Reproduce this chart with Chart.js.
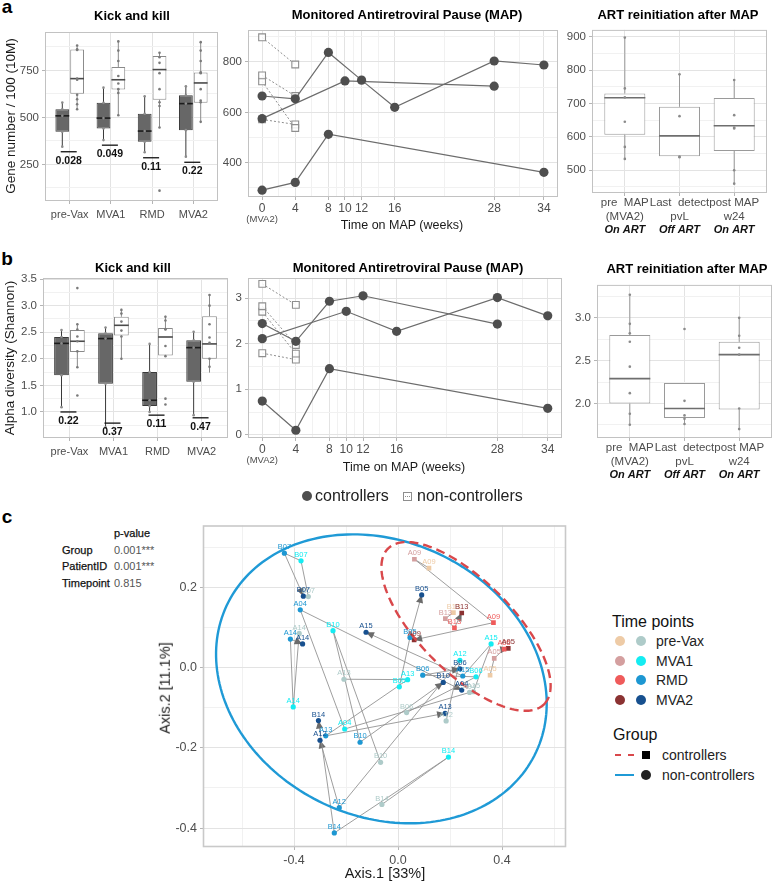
<!DOCTYPE html>
<html>
<head>
<meta charset="utf-8">
<script src="https://cdn.jsdelivr.net/npm/chart.js@4.4.1/dist/chart.umd.min.js"></script>
<style>
  body { margin: 0; background: #fff; }
  #fig { position: relative; width: 777px; height: 883px; overflow: hidden; background: #fff;
         font-family: 'Liberation Sans', Arial, sans-serif; }
  .t { position: absolute; white-space: pre; line-height: 1; color: #1a1a1a; }
  .sw { position: absolute; }
</style>
</head>
<body>
<div id="fig"></div>
<script>
// ---------------- data ----------------
const kkCats = ['pre-Vax', 'MVA1', 'RMD', 'MVA2'];
const artCats = [['pre  MAP', '(MVA2)'], ['Last  detect', 'pvL'], ['post MAP', 'w24']];
const artState = ['On ART', 'Off ART', 'On ART'];
const mapWeeks = [0, 4, 8, 10, 12, 16, 28, 34];
const mapMinor = [2, 6, 9, 11, 14, 22, 31];

// gene number / 100 (10M) -- boxes are [low whisker, q1, median, q3, high whisker]
const geneKkCtrl = [[344, 423, 508, 543, 579], [379, 441, 496, 577, 658], [314, 370, 427, 519, 612], [291, 432, 573, 617, 665]];
const geneKkNon = [[543, 626, 706, 861, 882], [511, 648, 700, 768, 904], [446, 594, 754, 826, 844], [476, 577, 683, 738, 900]];
const geneKkCtrlPts = [[579, 543, 508, 423, 344], [658, 577, 496, 441, 379], [612, 519, 427, 370, 314], [665, 617, 573, 432, 291]];
const geneKkNonPts = [[882, 862, 858, 706, 700, 620, 596, 570, 543], [904, 855, 800, 720, 680, 650, 630, 511],
                      [844, 820, 790, 735, 650, 580, 560, 446, 110], [900, 855, 800, 740, 735, 650, 590, 580, 476]];
const geneKkP = ['0.028', '0.049', '0.11', '0.22'];
const geneKkPy = [317, 352, 285, 261];

const geneMapCtrlX = [[0, 4, 8, 34], [0, 4, 8, 12, 16, 28, 34], [0, 10, 28]];
const geneMapCtrlY = [[291, 322, 513, 362], [665, 654, 838, 728, 620, 804, 788], [575, 725, 704]];
const geneMapNonX = [[0, 4], [0, 4], [0, 4], [0, 4]];
const geneMapNonY = [[898, 790], [747, 665], [723, 538], [572, 552]];

const geneArt = [[534, 606, 717, 730, 897], [541, 542, 603, 690, 787], [460, 558, 633, 716, 770]];
const geneArtPts = [[897, 745, 718, 645, 570, 534], [787, 662, 541, 539], [770, 665, 628, 625, 500, 460]];

// alpha diversity (Shannon)
const shanKkCtrl = [[1.09, 1.69, 2.29, 2.41, 2.54], [0.71, 1.53, 2.38, 2.48, 2.59], [1.00, 1.11, 1.22, 1.75, 2.28], [0.94, 1.57, 2.21, 2.35, 2.51]];
const shanKkNon = [[1.84, 2.13, 2.33, 2.54, 2.65], [2.00, 2.44, 2.63, 2.79, 2.94], [2.04, 2.06, 2.41, 2.58, 2.81], [1.74, 2.00, 2.28, 2.80, 3.20]];
const shanKkCtrlPts = [[2.54, 2.41, 2.29, 1.69, 1.09], [2.59, 2.48, 2.38, 1.53, 0.71], [2.28, 1.75, 1.22, 1.11, 1.00], [2.51, 2.35, 2.21, 1.57, 0.94]];
const shanKkNonPts = [[3.33, 2.65, 2.55, 2.42, 2.33, 2.14, 1.84, 1.31], [2.92, 2.85, 2.70, 2.53, 2.42, 2.00],
                      [2.79, 2.72, 2.56, 2.55, 2.24, 2.05, 1.25, 1.14], [3.20, 3.00, 2.65, 2.40, 2.30, 2.00, 1.85]];
const shanKkP = ['0.22', '0.37', '0.11', '0.47'];
const shanKkPy = [1.00, 0.79, 0.94, 0.89];

const shanMapCtrlX = [[0, 4, 8, 34], [0, 4, 8, 12, 28], [0, 10, 16, 28, 34]];
const shanMapCtrlY = [[0.74, 0.10, 1.45, 0.58], [2.44, 2.05, 2.93, 3.05, 2.43], [2.11, 2.71, 2.27, 3.01, 2.61]];
const shanMapNonX = [[0, 4], [0, 4], [0, 4], [0, 4]];
const shanMapNonY = [[3.31, 2.85], [2.82, 1.97], [2.70, 1.78], [1.79, 1.65]];

const shanArt = [[1.75, 2.00, 2.29, 2.80, 3.28], [1.76, 1.83, 1.94, 2.24, 2.24], [1.70, 1.93, 2.57, 2.72, 3.00]];
const shanArtPts = [[3.27, 2.93, 2.82, 2.72, 2.43, 2.12, 1.88, 1.75], [2.87, 2.03, 1.86, 1.82, 1.76], [3.00, 2.79, 2.65, 2.57, 1.94, 1.70]];

// PCoA (Axis.1, Axis.2) per patient, time points: pre-Vax, MVA1, RMD, MVA2
const pcoaTimes = ['pre-Vax', 'MVA1', 'RMD', 'MVA2'];
const pcoaPatients = ['A04', 'A12', 'A13', 'A14', 'A15', 'B05', 'B06', 'B07', 'B10', 'B14', 'A05', 'A09', 'B13'];
const pcoaControl = [false, false, false, false, false, false, false, false, false, false, true, true, true];
const pcoaX = [[0.275, -0.205, -0.376, 0.245], [0.185, 0.238, -0.226, -0.300], [-0.208, 0.037, -0.278, 0.181],
               [-0.380, -0.403, -0.414, -0.367], [0.290, 0.358, 0.249, -0.123], [null, 0.005, 0.046, 0.091],
               [0.033, 0.300, 0.095, 0.238], [-0.345, -0.373, -0.437, -0.364], [-0.067, -0.250, -0.146, 0.174],
               [-0.062, 0.194, -0.245, -0.306], [0.354, 0.370, 0.408, 0.424], [0.119, 0.063, 0.367, 0.062],
               [0.213, 0.182, 0.217, 0.245]];
const pcoaY = [[-0.062, -0.153, 0.144, -0.056], [-0.133, 0.018, -0.349, -0.181], [-0.029, -0.030, -0.170, -0.114],
               [0.085, -0.098, 0.071, 0.059], [-0.060, 0.059, -0.021, 0.088], [null, -0.048, 0.075, 0.181],
               [-0.112, -0.023, -0.019, -0.003], [0.177, 0.266, 0.285, 0.178], [-0.236, 0.092, -0.186, -0.037],
               [-0.341, -0.223, -0.412, -0.132], [-0.019, 0.023, 0.046, 0.048], [0.248, 0.270, 0.112, 0.069],
               [0.137, 0.122, 0.099, 0.136]];
// confidence ellipses: centre x, centre y, axis vector u (x, y), axis vector v (x, y)
const ellipseNon = [-0.064, -0.028, 0.634, -0.088, 0.048, 0.349];
const ellipseCtrl = [0.2615, 0.1025, 0.300, -0.194, 0.126, 0.081];
const permTerms = ['Group', 'PatientID', 'Timepoint'];
const permP = ['0.001***', '0.001***', '0.815'];

const nonCols = ['#aecbc9', '#14ecf2', '#1d97d2', '#17508f'];
const ctrlCols = ['#eecba6', '#d49f9f', '#ef5b5b', '#8b3232'];

// ---------------- helpers ----------------
Chart.defaults.font.family = "'Liberation Sans', Arial, sans-serif";
Chart.defaults.color = '#4d4d4d';
const fig = document.getElementById('fig');

function txt(s, x, y, css, align, rot) {
  const d = document.createElement('div');
  d.className = 't';
  d.textContent = s;
  const tx = align === 'l' ? '0' : align === 'r' ? '-100%' : '-50%';
  d.style.cssText = `left:${x}px;top:${y}px;transform:translate(${tx},-50%)${rot ? ' rotate(' + rot + 'deg)' : ''};${css}`;
  fig.appendChild(d);
}

function linAxis(min, max, major, minor, fmt, pad, size) {
  const isMaj = v => major.some(m => Math.abs(m - v) < 1e-9);
  return {
    type: 'linear', min: min, max: max, offset: false,
    afterBuildTicks: s => { s.ticks = major.concat(minor).sort((a, b) => a - b).map(v => ({ value: v })); },
    ticks: { autoSkip: false, maxRotation: 0, minRotation: 0, padding: pad, color: '#4d4d4d',
             font: { size: size || 11 }, callback: v => isMaj(v) ? fmt(v) : '' },
    grid: { offset: false, lineWidth: 1, tickLength: 3,
            color: c => (c.tick && isMaj(c.tick.value)) ? '#e3e3e3' : '#f1f1f1',
            tickColor: c => (c.tick && isMaj(c.tick.value)) ? '#b5b5b5' : 'rgba(0,0,0,0)' },
    border: { display: false }
  };
}

const framePlugin = {
  id: 'frame',
  beforeDatasetsDraw(chart) {
    const a = chart.chartArea, ctx = chart.ctx;
    ctx.save();
    ctx.strokeStyle = chart.options.frameColor || '#c2c2c2';
    ctx.lineWidth = chart.options.frameWidth || 1;
    ctx.strokeRect(a.left + 0.5, a.top + 0.5, a.right - a.left - 1, a.bottom - a.top - 1);
    ctx.restore();
  }
};

function mount(box, plot, cfg) {
  const [bx, by, bw, bh] = box, [pl, pt, pr, pb] = plot;
  const cv = document.createElement('canvas');
  cv.width = bw; cv.height = bh;
  cv.style.cssText = `position:absolute;left:${bx}px;top:${by}px;width:${bw}px;height:${bh}px;`;
  fig.appendChild(cv);
  const o = cfg.options;
  o.responsive = false; o.animation = false; o.devicePixelRatio = 1;
  o.layout = { padding: { left: 0, top: pt - by, right: bx + bw - pr, bottom: 0 } };
  o.scales.x.afterFit = s => { s.height = by + bh - pb; };
  o.scales.y.afterFit = s => { s.width = pl - bx; };
  o.plugins = Object.assign({ legend: { display: false }, tooltip: { enabled: false } }, o.plugins || {});
  cfg.plugins = [framePlugin].concat(cfg.plugins || []);
  return new Chart(cv, cfg);
}

// whiskers, medians and jittered points on top of floating bars
const boxPlugin = {
  id: 'boxes',
  beforeDatasetsDraw(chart) {
    const ctx = chart.ctx, y = chart.scales.y;
    chart.data.datasets.forEach((ds, i) => {
      chart.getDatasetMeta(i).data.forEach((bar, j) => {
        const f = ds.five[j];
        ctx.save();
        ctx.strokeStyle = ds.whisker; ctx.lineWidth = 1;
        ctx.beginPath();
        ctx.moveTo(bar.x, y.getPixelForValue(f[0])); ctx.lineTo(bar.x, y.getPixelForValue(f[1]));
        ctx.moveTo(bar.x, y.getPixelForValue(f[3])); ctx.lineTo(bar.x, y.getPixelForValue(f[4]));
        ctx.stroke();
        ctx.restore();
      });
    });
  },
  afterDatasetsDraw(chart) {
    const ctx = chart.ctx, y = chart.scales.y;
    chart.data.datasets.forEach((ds, i) => {
      chart.getDatasetMeta(i).data.forEach((bar, j) => {
        const m = y.getPixelForValue(ds.five[j][2]);
        ctx.save();
        ctx.strokeStyle = ds.median; ctx.lineWidth = 1.6;
        ctx.beginPath(); ctx.moveTo(bar.x - bar.width / 2, m); ctx.lineTo(bar.x + bar.width / 2, m); ctx.stroke();
        ctx.fillStyle = ds.dot;
        ds.pts[j].forEach(v => {
          ctx.beginPath(); ctx.arc(bar.x, y.getPixelForValue(v), 1.3, 0, 2 * Math.PI); ctx.fill();
        });
        ctx.restore();
      });
    });
  }
};

function pvalPlugin(labels, ys) {
  return {
    id: 'pvals',
    afterDatasetsDraw(chart) {
      const ctx = chart.ctx, xs = chart.scales.x, yS = chart.scales.y;
      ctx.save();
      labels.forEach((lab, j) => {
        const cx = xs.getPixelForValue(j + 1) - 1, py = yS.getPixelForValue(ys[j]);
        ctx.strokeStyle = '#111'; ctx.lineWidth = 1.3;
        ctx.beginPath(); ctx.moveTo(cx - 8, py); ctx.lineTo(cx + 8, py); ctx.stroke();
        ctx.fillStyle = '#111'; ctx.font = "bold 10.5px 'Liberation Sans', Arial";
        ctx.textAlign = 'center'; ctx.textBaseline = 'middle';
        ctx.fillText(lab, cx, py + 9);
      });
      ctx.restore();
    }
  };
}

const mva2Plugin = {
  id: 'mva2',
  afterDraw(chart) {
    const ctx = chart.ctx;
    ctx.save();
    ctx.fillStyle = '#4d4d4d'; ctx.font = "9.5px 'Liberation Sans', Arial";
    ctx.textAlign = 'center'; ctx.textBaseline = 'middle';
    ctx.fillText('(MVA2)', chart.scales.x.getPixelForValue(0), chart.chartArea.bottom + 22);
    ctx.restore();
  }
};

const statePlugin = {
  id: 'state',
  afterDraw(chart) {
    const ctx = chart.ctx;
    ctx.save();
    ctx.fillStyle = '#111'; ctx.font = "italic bold 11px 'Liberation Sans', Arial";
    ctx.textAlign = 'center'; ctx.textBaseline = 'middle';
    artState.forEach((s, j) => ctx.fillText(s, chart.scales.x.getPixelForValue(j + 1), chart.chartArea.bottom + 37));
    ctx.restore();
  }
};

function kkChart(box, plot, ctrl, non, ctrlPts, nonPts, yAxis, pLab, pY) {
  const mk = (f, i) => ({ x: i + 1, y: [f[1], f[3]] });
  return mount(box, plot, {
    type: 'bar',
    data: { datasets: [
      { data: ctrl.map(mk), five: ctrl, pts: ctrlPts, backgroundColor: '#676767', borderColor: '#3a3a3a',
        borderWidth: 1, borderSkipped: false, whisker: '#3a3a3a', median: '#1c1c1c', dot: '#8c8c8c' },
      { data: non.map(mk), five: non, pts: nonPts, backgroundColor: '#ffffff', borderColor: '#8a8a8a',
        borderWidth: 1, borderSkipped: false, whisker: '#8a8a8a', median: '#4a4a4a', dot: '#7a7a7a' }
    ] },
    options: {
      categoryPercentage: 0.72, barPercentage: 0.93,
      scales: { x: linAxis(0.4, 4.6, [1, 2, 3, 4], [], v => kkCats[Math.round(v) - 1], 4), y: yAxis }
    },
    plugins: [boxPlugin, pvalPlugin(pLab, pY)]
  });
}

function mapChart(box, plot, cx, cy, nx, ny, yAxis) {
  const pts = (xs, ys) => xs.map((x, k) => ({ x: x, y: ys[k] }));
  const ctrlSets = cx.map((xs, i) => ({ data: pts(xs, cy[i]), borderColor: '#6c6c6c', borderWidth: 1.2,
    pointRadius: 4.6, pointBackgroundColor: '#4e4e4e', pointBorderColor: '#4e4e4e', pointBorderWidth: 0, tension: 0 }));
  const nonSets = nx.map((xs, i) => ({ data: pts(xs, ny[i]), borderColor: '#8e8e8e', borderWidth: 1,
    borderDash: [2, 2], pointStyle: 'rect', pointRadius: 4.8, pointBackgroundColor: 'rgba(255,255,255,0.85)',
    pointBorderColor: '#8e8e8e', pointBorderWidth: 1.1, tension: 0 }));
  return mount(box, plot, {
    type: 'line',
    data: { datasets: ctrlSets.concat(nonSets) },
    options: {
      scales: { x: linAxis(-1.7, 35.7, mapWeeks, mapMinor, v => String(v), 1, 12), y: yAxis }
    },
    plugins: [mva2Plugin]
  });
}

function artChart(box, plot, five, pts, yAxis) {
  return mount(box, plot, {
    type: 'bar',
    data: { datasets: [
      { data: five.map((f, i) => ({ x: i + 1, y: [f[1], f[3]] })), five: five, pts: pts,
        backgroundColor: '#ffffff', borderColor: '#9a9a9a', borderWidth: 1, borderSkipped: false,
        whisker: '#9a9a9a', median: '#6e6e6e', dot: '#8a8a8a' }
    ] },
    options: {
      categoryPercentage: 0.75, barPercentage: 1,
      scales: { x: linAxis(0.4, 3.6, [1, 2, 3], [], v => artCats[Math.round(v) - 1], 0, 11.5), y: yAxis }
    },
    plugins: [boxPlugin, statePlugin]
  });
}

// ---------------- row a ----------------
kkChart([15, 20, 220, 225], [45, 32, 218, 201], geneKkCtrl, geneKkNon, geneKkCtrlPts, geneKkNonPts,
  linAxis(55, 954, [250, 500, 750], [125, 375, 625, 875], v => String(v), 3, 11.5), geneKkP, geneKkPy);
mapChart([212, 20, 353, 210], [248, 30, 558, 197], geneMapCtrlX, geneMapCtrlY, geneMapNonX, geneMapNonY,
  linAxis(264, 927, [400, 600, 800], [300, 500, 700, 900], v => String(v), 3, 11.5));
artChart([560, 20, 217, 230], [592, 28, 767, 193], geneArt, geneArtPts,
  linAxis(432, 920, [500, 600, 700, 800, 900], [450, 550, 650, 750, 850], v => String(v), 3, 11.5));

// ---------------- row b ----------------
kkChart([15, 268, 220, 195], [43, 278, 228, 438], shanKkCtrl, shanKkNon, shanKkCtrlPts, shanKkNonPts,
  linAxis(0.51, 3.52, [1.0, 1.5, 2.0, 2.5, 3.0, 3.5], [0.75, 1.25, 1.75, 2.25, 2.75, 3.25], v => v.toFixed(1), 3, 11.5),
  shanKkP, shanKkPy);
mapChart([222, 268, 348, 210], [248, 278, 562, 438], shanMapCtrlX, shanMapCtrlY, shanMapNonX, shanMapNonY,
  linAxis(-0.07, 3.44, [0, 1, 2, 3], [0.5, 1.5, 2.5], v => String(v), 3, 11.5));
artChart([565, 275, 212, 220], [597, 283, 772, 438], shanArt, shanArtPts,
  linAxis(1.596, 3.385, [2.0, 2.5, 3.0], [1.75, 2.25, 2.75, 3.25], v => v.toFixed(1), 3, 11.5));

// ---------------- panel c ----------------
const pcoaPlugin = {
  id: 'pcoa',
  beforeDatasetsDraw(chart) {
    const ctx = chart.ctx, xs = chart.scales.x, ys = chart.scales.y, a = chart.chartArea;
    const px = (x, y) => [xs.getPixelForValue(x), ys.getPixelForValue(y)];
    ctx.save();
    ctx.beginPath(); ctx.rect(a.left, a.top, a.right - a.left, a.bottom - a.top); ctx.clip();
    pcoaPatients.forEach((id, i) => {
      const p = [];
      for (let t = 0; t < 4; t++) if (pcoaX[i][t] !== null) p.push(px(pcoaX[i][t], pcoaY[i][t]));
      ctx.beginPath();
      p.forEach((q, k) => k ? ctx.lineTo(q[0], q[1]) : ctx.moveTo(q[0], q[1]));
      ctx.strokeStyle = '#939393'; ctx.lineWidth = 0.9; ctx.stroke();
      const s = p[p.length - 2], e = p[p.length - 1];
      const len = Math.hypot(e[0] - s[0], e[1] - s[1]), ux = (e[0] - s[0]) / len, uy = (e[1] - s[1]) / len;
      ctx.beginPath();
      ctx.moveTo(e[0], e[1]);
      ctx.lineTo(e[0] - ux * 8 - uy * 3.6, e[1] - uy * 8 + ux * 3.6);
      ctx.lineTo(e[0] - ux * 8 + uy * 3.6, e[1] - uy * 8 - ux * 3.6);
      ctx.closePath();
      ctx.fillStyle = '#6b6b6b'; ctx.fill();
    });
    ctx.restore();
  },
  afterDatasetsDraw(chart) {
    const ctx = chart.ctx, xs = chart.scales.x, ys = chart.scales.y, a = chart.chartArea;
    const px = (x, y) => [xs.getPixelForValue(x), ys.getPixelForValue(y)];
    ctx.save();
    ctx.beginPath(); ctx.rect(a.left, a.top, a.right - a.left, a.bottom - a.top); ctx.clip();
    [[ellipseNon, '#1f9ad6', []], [ellipseCtrl, '#d9484b', [9, 5]]].forEach(([e, col, dash]) => {
      ctx.beginPath();
      for (let k = 0; k <= 200; k++) {
        const t = k / 200 * 2 * Math.PI;
        const q = px(e[0] + e[2] * Math.cos(t) + e[4] * Math.sin(t), e[1] + e[3] * Math.cos(t) + e[5] * Math.sin(t));
        k ? ctx.lineTo(q[0], q[1]) : ctx.moveTo(q[0], q[1]);
      }
      ctx.setLineDash(dash); ctx.lineWidth = 2.4; ctx.strokeStyle = col; ctx.stroke();
    });
    ctx.setLineDash([]);
    ctx.font = "7.5px 'Liberation Sans', Arial"; ctx.textAlign = 'center'; ctx.textBaseline = 'middle';
    chart.data.datasets.forEach((ds, i) => {
      chart.getDatasetMeta(i).data.forEach((el, k) => {
        ctx.fillStyle = ds.backgroundColor;
        ctx.fillText(ds.data[k].id, el.x, el.y - 6);
      });
    });
    ctx.restore();
  }
};

const pcoaSets = [];
[false, true].forEach(ctrl => {
  pcoaTimes.forEach((tp, t) => {
    const data = [];
    pcoaPatients.forEach((id, i) => {
      if (pcoaControl[i] === ctrl && pcoaX[i][t] !== null) data.push({ x: pcoaX[i][t], y: pcoaY[i][t], id: id });
    });
    pcoaSets.push({ data: data, pointStyle: ctrl ? 'rect' : 'circle', pointRadius: ctrl ? 3.3 : 2.6,
      backgroundColor: ctrl ? ctrlCols[t] : nonCols[t], pointBackgroundColor: ctrl ? ctrlCols[t] : nonCols[t],
      pointBorderWidth: 0 });
  });
});

mount([165, 515, 425, 360], [203, 522, 566, 847], {
  type: 'scatter',
  data: { datasets: pcoaSets },
  options: {
    frameColor: '#c9c9c9', frameWidth: 1.6,
    scales: {
      x: linAxis(-0.75, 0.646, [-0.4, 0, 0.4], [-0.6, -0.2, 0.2, 0.6], v => v.toFixed(1), 3, 12.5),
      y: linAxis(-0.447, 0.354, [-0.4, -0.2, 0, 0.2], [-0.3, -0.1, 0.1, 0.3], v => v.toFixed(1), 3, 12.5)
    }
  },
  plugins: [pcoaPlugin]
});

// ---------------- text ----------------
const bold13 = 'font-weight:bold;font-size:13px;color:#000;';
txt('a', 7, 6, 'font-weight:bold;font-size:19px;color:#000;');
txt('b', 7, 258, 'font-weight:bold;font-size:19px;color:#000;');
txt('c', 7, 516, 'font-weight:bold;font-size:19px;color:#000;');
txt('Kick and kill', 132, 15, bold13);
txt('Monitored Antiretroviral Pause (MAP)', 407, 13.5, bold13);
txt('ART reinitiation after MAP', 678, 13.5, bold13);
txt('Kick and kill', 133, 267, bold13);
txt('Monitored Antiretroviral Pause (MAP)', 408, 267, bold13);
txt('ART reinitiation after MAP', 687, 268, bold13);
txt('Gene number / 100 (10M)', 11, 116, 'font-size:13.5px;', 'c', -90);
txt('Alpha diversity (Shannon)', 10, 358, 'font-size:13.5px;', 'c', -90);
txt('Time on MAP (weeks)', 402, 225, 'font-size:12.5px;');
txt('Time on MAP (weeks)', 404, 467, 'font-size:12.5px;');

// shared legend between b and c
function swatch(css) { const d = document.createElement('div'); d.className = 'sw'; d.style.cssText = css; fig.appendChild(d); }
swatch('left:302px;top:491px;width:10px;height:10px;border-radius:50%;background:#4e4e4e;');
txt('controllers', 315, 496, 'font-size:16px;color:#222;', 'l');
swatch('left:403px;top:492px;width:7px;height:7px;border:1px solid #8e8e8e;background:#fff;');
swatch('left:405px;top:496px;width:5px;height:0;border-top:1px dotted #8e8e8e;');
txt('non-controllers', 417, 496, 'font-size:16px;color:#222;', 'l');

// permanova table
txt('p-value', 114, 533, 'font-size:11px;color:#111;-webkit-text-stroke:0.25px #111;', 'l');
permTerms.forEach((s, i) => {
  txt(s, 62, 549.5 + i * 16.7, 'font-size:11px;color:#111;-webkit-text-stroke:0.25px #111;', 'l');
  txt(permP[i], 114, 549.5 + i * 16.7, 'font-size:11px;color:#555;', 'l');
});
txt('Axis.1 [33%]', 385, 873, 'font-size:14.5px;');
txt('Axis.2 [11.1%]', 165, 688, 'font-size:14.5px;', 'c', -90);

// panel c legend
txt('Time points', 612, 622, 'font-size:16px;color:#111;', 'l');
pcoaTimes.forEach((s, t) => {
  const y = 641 + t * 19.5;
  swatch(`left:${615}px;top:${y - 5}px;width:10px;height:10px;border-radius:50%;background:${ctrlCols[t]};`);
  swatch(`left:${636}px;top:${y - 5}px;width:10px;height:10px;border-radius:50%;background:${nonCols[t]};`);
  txt(s, 656, y, 'font-size:14px;color:#222;', 'l');
});
txt('Group', 613, 735, 'font-size:16px;color:#111;', 'l');
swatch('left:615px;top:754px;width:19px;height:0;border-top:2px dashed #d9484b;');
swatch('left:642px;top:751px;width:8px;height:8px;background:#000;');
txt('controllers', 662, 755, 'font-size:14px;color:#222;', 'l');
swatch('left:615px;top:774px;width:19px;height:0;border-top:2px solid #1f9ad6;');
swatch('left:641px;top:770px;width:10px;height:10px;border-radius:50%;background:#222;');
txt('non-controllers', 662, 775, 'font-size:14px;color:#222;', 'l');
</script>
</body>
</html>
